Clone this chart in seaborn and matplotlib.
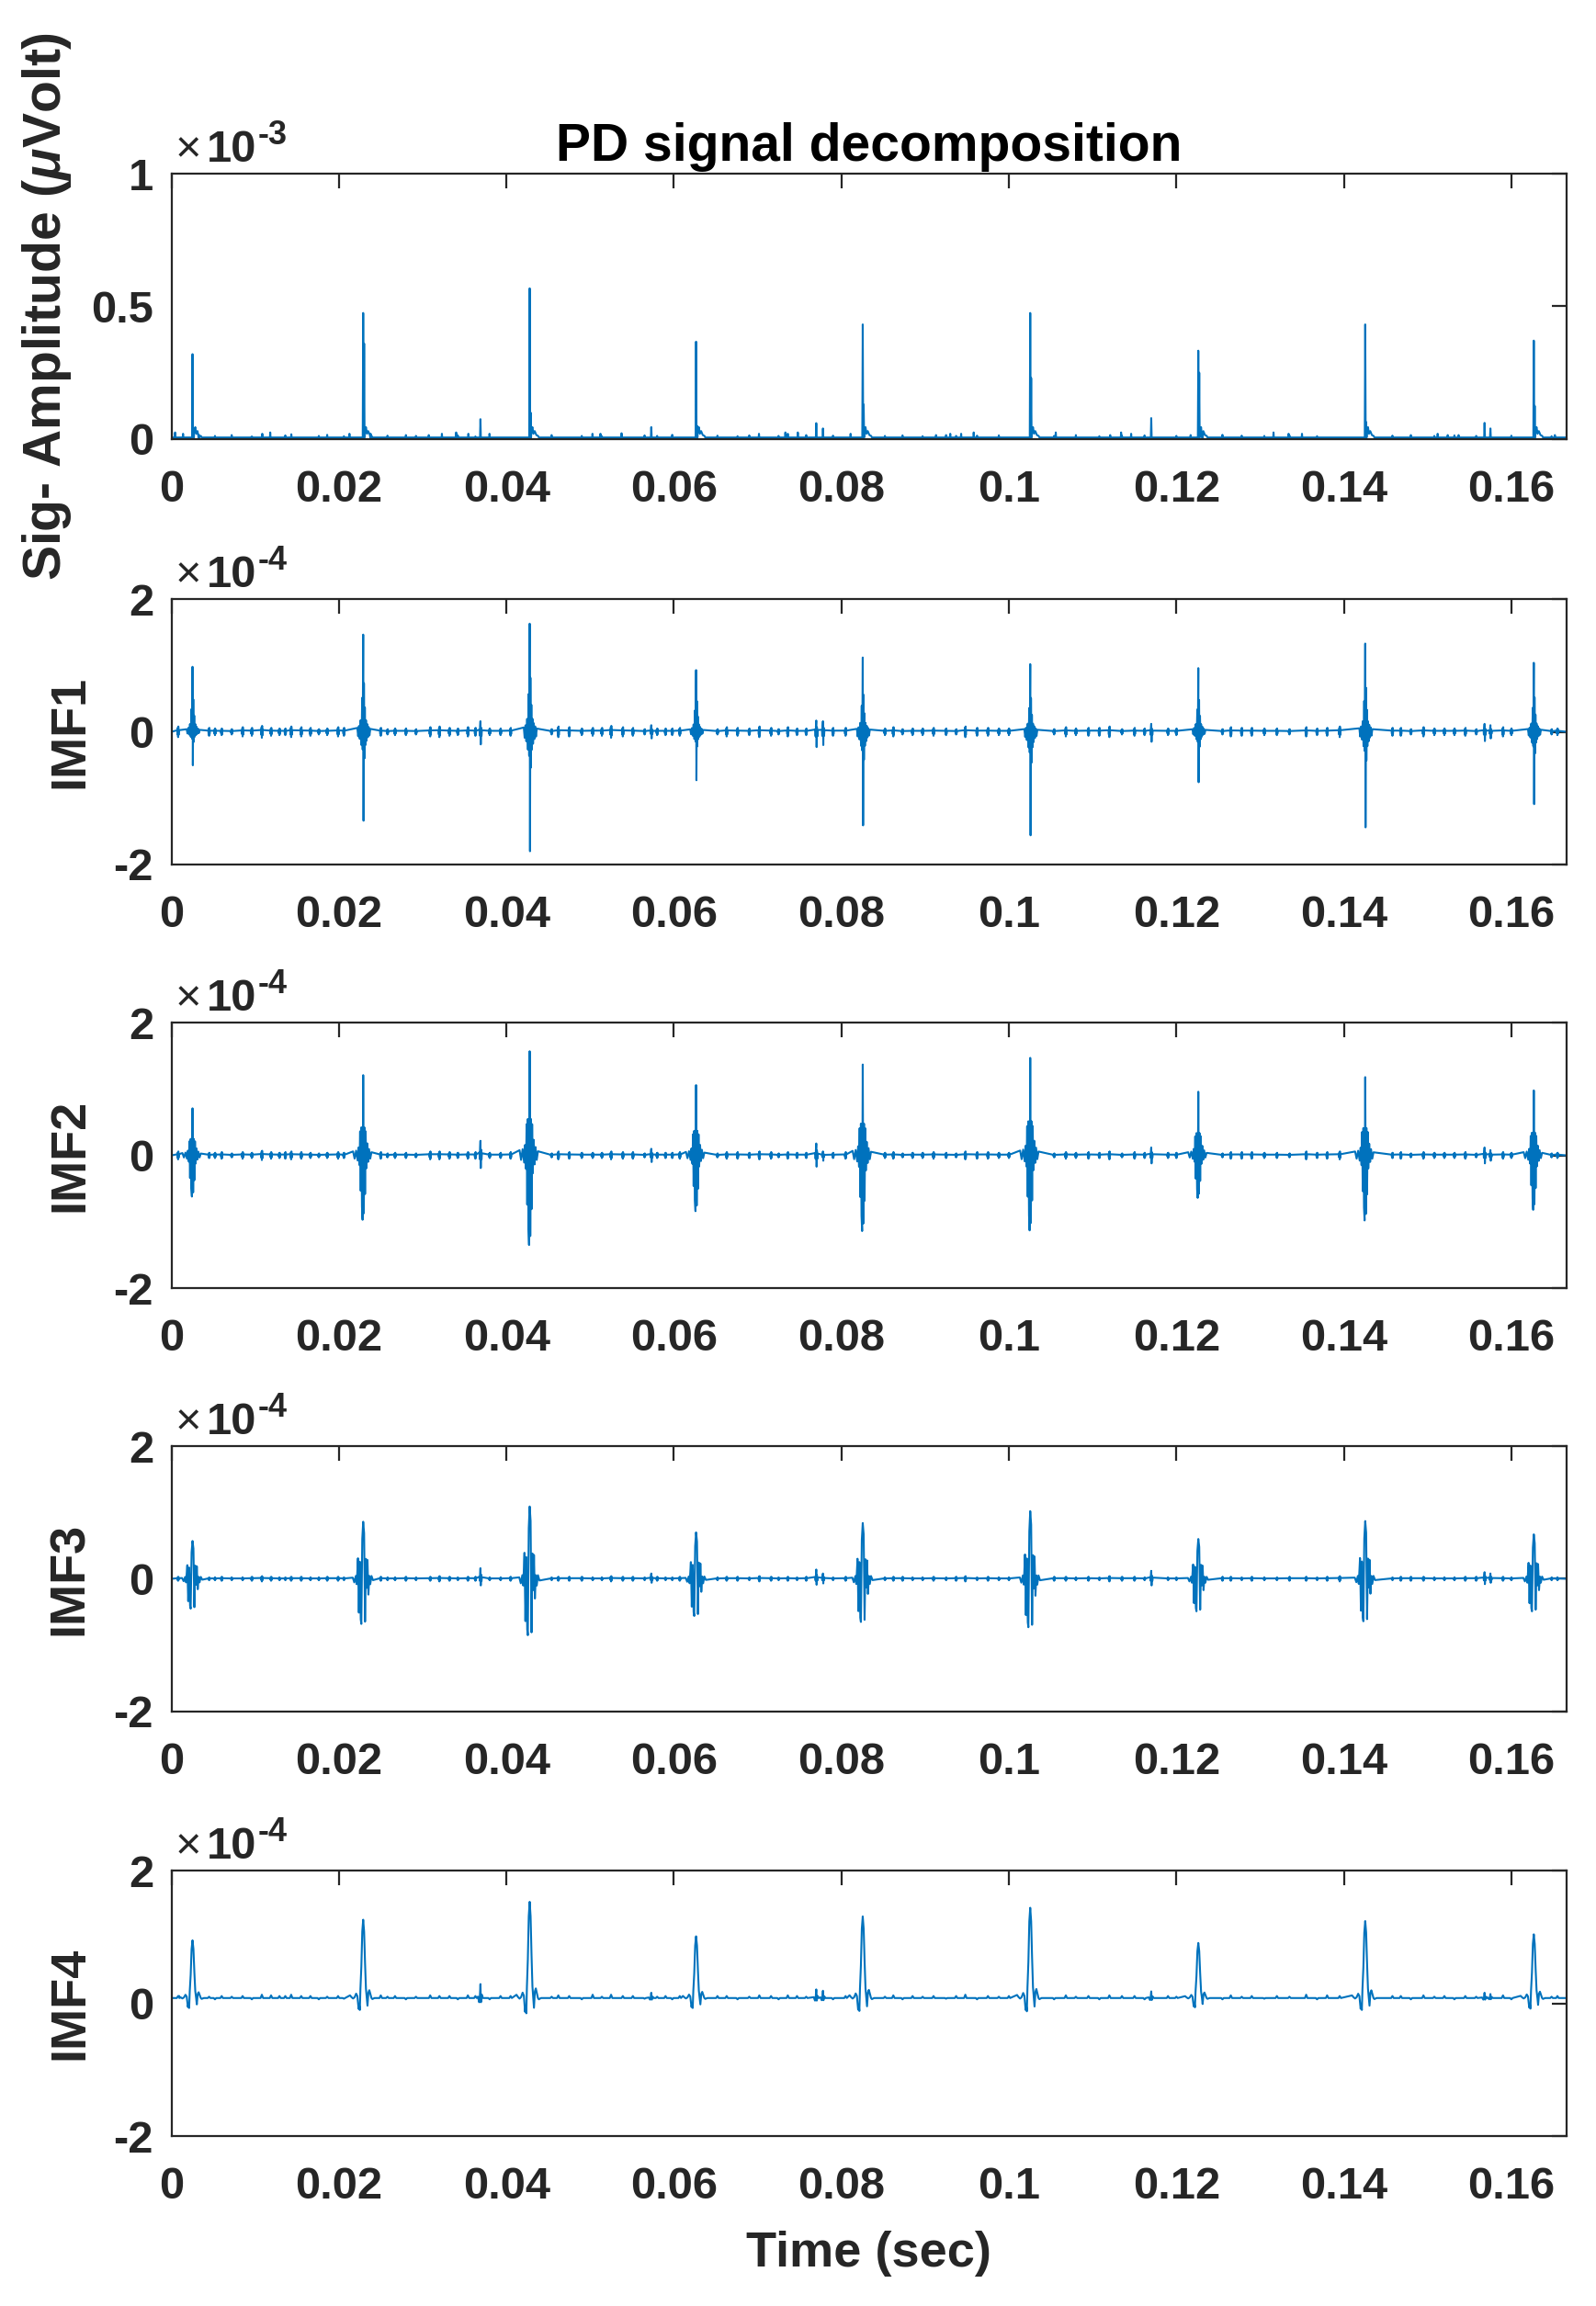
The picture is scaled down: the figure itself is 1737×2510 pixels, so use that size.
import numpy as np
import pandas as pd
import matplotlib
matplotlib.use("Agg")
import matplotlib.pyplot as plt
import seaborn as sns
from matplotlib.ticker import FixedLocator, FuncFormatter

# ---------------- data ----------------
XMAX = 0.1666
XTICKS = [0, 0.02, 0.04, 0.06, 0.08, 0.10, 0.12, 0.14, 0.16]
SIG_YTICKS = [0, 0.5, 1]
IMF_YTICKS = [-2, 0, 2]
PANEL_LABELS = ["Sig- Amplitude ($\\mathit{\\mu}$Volt)", "IMF1", "IMF2", "IMF3", "IMF4"]
EXPONENTS = ["-3", "-4", "-4", "-4", "-4"]

# times of the nine main PD pulses (s)
PULSE_T = [0.00252, 0.02290, 0.04278, 0.06265, 0.08255, 0.10255, 0.12262, 0.14255, 0.16268]
# times of the smaller secondary discharges (s)
SMALL_T = [0.0369, 0.0573, 0.0770, 0.0778, 0.1170, 0.1568, 0.1575]

# ---- raw signal (x1e-3) ----
SIG_BASE = 0.006
SIG_PEAK = [0.32, 0.475, 0.568, 0.367, 0.432, 0.475, 0.333, 0.432, 0.371]
SIG_SECOND = [0.04, 0.36, 0.10, 0.05, 0.13, 0.23, 0.25, 0.064, 0.125]
SIG_TAIL_US = [220, 330, 450, 600, 800, 1000, 1100]
SIG_TAIL_V = [0.035, 0.045, 0.02, 0.03, 0.015, 0.012, 0.006]
SIG_SMALL_V = [0.075, 0.045, 0.06, 0.04, 0.079, 0.061, 0.04]
SIG_FUZZ_T = [0.00044, 0.00139, 0.00328, 0.01085, 0.0118, 0.01432, 0.02126, 0.02379,
              0.03073, 0.0323, 0.034, 0.03546, 0.03798, 0.05028, 0.05123, 0.05375,
              0.07016, 0.07331, 0.0736, 0.0748, 0.0811, 0.0913, 0.0930, 0.0943,
              0.0958, 0.1056, 0.1121, 0.1134, 0.1146, 0.1217, 0.1231, 0.1316,
              0.1334, 0.1350, 0.1512, 0.1524, 0.1537, 0.1652]
SIG_FUZZ_V = [0.025, 0.02, 0.015, 0.02, 0.025, 0.018, 0.02, 0.02,
              0.015, 0.02, 0.025, 0.02, 0.02, 0.02, 0.02, 0.022,
              0.02, 0.025, 0.02, 0.025, 0.02, 0.015, 0.02, 0.02,
              0.025, 0.025, 0.015, 0.025, 0.02, 0.015, 0.02, 0.025,
              0.02, 0.02, 0.02, 0.015, 0.015, 0.015]

# ---- IMFs (x1e-4) ----
IMF1_PEAK = [0.98, 1.465, 1.63, 0.93, 1.12, 1.02, 0.96, 1.33, 1.04]
IMF1_TROUGH = [-0.505, -1.34, -1.80, -0.73, -1.41, -1.56, -0.76, -1.44, -1.09]
IMF2_PEAK = [0.71, 1.21, 1.57, 1.06, 1.37, 1.47, 0.96, 1.18, 0.98]
IMF2_TROUGH = [-0.62, -0.97, -1.35, -0.84, -1.14, -1.13, -0.64, -0.98, -0.82]
IMF3_PEAK = [0.57, 0.86, 1.09, 0.70, 0.84, 1.02, 0.60, 0.87, 0.67]
IMF3_TROUGH = [-0.45, -0.68, -0.85, -0.56, -0.65, -0.73, -0.49, -0.64, -0.49]
IMF4_BASE = 0.08
IMF4_PEAK = [0.95, 1.26, 1.53, 1.01, 1.31, 1.44, 0.91, 1.24, 1.04]
IMF4_TROUGH = [-0.07, -0.10, -0.15, -0.07, -0.115, -0.12, -0.06, -0.10, -0.08]

# pulse shapes read at the third pulse (offset in microseconds, value relative to peak/trough)
IMF1_OFF = [-700, -600, -500, -400, -300, -200, -120, -60, 0, 40, 90, 140, 200, 260, 330, 400, 480, 560, 650, 750, 850]
IMF1_REL = [0.04, -0.05, 0.06, -0.08, 0.12, -0.15, 0.35, -0.2, 1.0, -1.0, 0.5, -0.3, 0.25, -0.15, 0.12, -0.1, 0.08, -0.06, 0.05, -0.04, 0.03]
IMF2_OFF = [-1208, -1025, -842, -659, -549, -439, -366, -293, -220, -146, -73, 0, 73, 146, 220, 293, 366, 476, 586, 695, 842, 988]
IMF2_REL = [0.05, -0.05, 0.06, -0.08, 0.1, -0.15, 0.3, -0.55, 0.35, -0.8, -1.0, 1.0, -0.9, 0.35, -0.6, 0.3, -0.2, 0.15, -0.1, 0.08, -0.05, 0.04]
IMF3_OFF = [-1244, -1061, -878, -769, -622, -512, -403, -293, -220, -110, 0, 110, 220, 329, 439, 512, 622, 732, 842, 988, 1171]
IMF3_REL = [0.02, -0.08, 0.05, -0.12, 0.36, -0.75, 0.3, -0.9, -1.0, 0.7, 1.0, 0.8, -0.95, 0.35, -0.2, 0.33, -0.35, 0.05, -0.12, 0.05, -0.03]
IMF4_OFF = [-1574, -1391, -1208, -1025, -842, -695, -549, -476, -403, -329, -220, -110, 0, 110, 220, 329, 439, 512, 622, 732, 842, 988, 1098, 1354]
IMF4_REL = [0.034, 0.01, -0.04, 0.01, 0.056, 0.025, -0.9, -0.57, -1.0, 0.12, 0.4, 0.85, 1.0, 0.85, 0.45, 0.12, -0.04, -0.64, 0.07, 0.1, 0.056, 0.0, -0.085, 0.0]

# small discharges
SMALL_OFF = [-120, -80, -40, 0, 40, 80, 130, 180]
SMALL_REL = [0.2, -0.3, 0.5, 1.0, -1.0, 0.4, -0.3, 0.15]
IMF1_SMALL_POS = [0.16, 0.10, 0.17, 0.16, 0.12, 0.12, 0.10]
IMF1_SMALL_NEG = [-0.19, -0.10, -0.23, -0.20, -0.15, -0.14, -0.10]
IMF2_SMALL_POS = [0.22, 0.10, 0.18, 0.06, 0.12, 0.12, 0.08]
IMF2_SMALL_NEG = [-0.19, -0.10, -0.17, -0.08, -0.12, -0.12, -0.08]
IMF3_SMALL_POS = [0.16, 0.08, 0.14, 0.08, 0.12, 0.10, 0.08]
IMF3_SMALL_NEG = [-0.10, -0.06, -0.09, -0.07, -0.10, -0.08, -0.06]
SMALL4_OFF = [-300, -150, -60, 0, 60, 150, 300]
SMALL4_REL = [0.1, -0.3, 0.2, 1.0, -0.3, 0.25, 0.0]
IMF4_SMALL_PEAK = [0.29, 0.16, 0.21, 0.19, 0.18, 0.16, 0.14]

# baseline noise bursts between pulses
FUZZ_T = [0.0008, 0.0045, 0.0060, 0.0085, 0.0108, 0.0119, 0.0129, 0.0143,
          0.0155, 0.0166, 0.0199, 0.0250, 0.0267, 0.0309, 0.0320, 0.0332,
          0.0354, 0.0393, 0.0405, 0.0462, 0.0475, 0.0503, 0.0525, 0.0539,
          0.0551, 0.0590, 0.0607, 0.0663, 0.0702, 0.0716, 0.0736, 0.0747,
          0.0805, 0.0862, 0.0885, 0.0910, 0.0948, 0.0975, 0.1000, 0.1068,
          0.1095, 0.1120, 0.1150, 0.1190, 0.1265, 0.1290, 0.1320, 0.1355,
          0.1380, 0.1395, 0.1468, 0.1495, 0.1520, 0.1545, 0.1590, 0.1655]
FUZZ2_T = [0.0052, 0.0072, 0.0096, 0.0136, 0.0176, 0.0186, 0.0206, 0.0258,
           0.0280, 0.0292, 0.0342, 0.0363, 0.0380, 0.0454, 0.0490, 0.0514,
           0.0565, 0.0580, 0.0598, 0.0652, 0.0676, 0.0690, 0.0725, 0.0758,
           0.0790, 0.0852, 0.0873, 0.0897, 0.0925, 0.0937, 0.0962, 0.0988,
           0.1054, 0.1080, 0.1108, 0.1135, 0.1162, 0.1200, 0.1255, 0.1278,
           0.1305, 0.1335, 0.1368, 0.1458, 0.1480, 0.1508, 0.1532, 0.1558,
           0.1600, 0.1648]
FUZZ_OFF = [-90, -60, -30, 0, 30, 60, 90]
FUZZ_REL = [0.3, -0.5, 0.8, -1.0, 1.0, -0.6, 0.3]

IMF1_FUZZ = [0.08, 0.06, 0.05, 0.07, 0.09, 0.06, 0.05, 0.08,
             0.07, 0.06, 0.07, 0.06, 0.05, 0.07, 0.08, 0.06,
             0.07, 0.05, 0.06, 0.08, 0.07, 0.06, 0.09, 0.07,
             0.06, 0.05, 0.06, 0.07, 0.08, 0.06, 0.07, 0.05,
             0.06, 0.07, 0.05, 0.06, 0.08, 0.06, 0.05, 0.07,
             0.06, 0.08, 0.06, 0.05, 0.07, 0.06, 0.05, 0.07,
             0.06, 0.08, 0.06, 0.07, 0.05, 0.06, 0.07, 0.05]
IMF1_FUZZ2 = [0.05, 0.04, 0.06, 0.05, 0.04, 0.05, 0.06, 0.04,
              0.05, 0.04, 0.05, 0.06, 0.05, 0.04, 0.05, 0.06,
              0.04, 0.05, 0.05, 0.04, 0.06, 0.05, 0.04, 0.05,
              0.06, 0.05, 0.04, 0.05, 0.05, 0.04, 0.06, 0.05,
              0.04, 0.05, 0.06, 0.04, 0.05, 0.05, 0.04, 0.06,
              0.05, 0.04, 0.05, 0.06, 0.04, 0.05, 0.05, 0.04,
              0.05, 0.04]
IMF2_FUZZ = [0.06, 0.04, 0.05, 0.05, 0.07, 0.05, 0.04, 0.06,
             0.05, 0.04, 0.05, 0.05, 0.04, 0.06, 0.06, 0.05,
             0.05, 0.04, 0.05, 0.06, 0.05, 0.04, 0.06, 0.05,
             0.05, 0.04, 0.05, 0.05, 0.06, 0.05, 0.05, 0.04,
             0.05, 0.05, 0.04, 0.05, 0.06, 0.05, 0.04, 0.05,
             0.05, 0.06, 0.05, 0.04, 0.05, 0.05, 0.04, 0.06,
             0.05, 0.06, 0.05, 0.05, 0.04, 0.05, 0.05, 0.04]
IMF2_FUZZ2 = [0.04, 0.03, 0.04, 0.05, 0.03, 0.04, 0.04, 0.03,
              0.04, 0.03, 0.04, 0.05, 0.04, 0.03, 0.04, 0.04,
              0.03, 0.04, 0.04, 0.03, 0.05, 0.04, 0.03, 0.04,
              0.04, 0.04, 0.03, 0.04, 0.04, 0.03, 0.05, 0.04,
              0.03, 0.04, 0.04, 0.03, 0.04, 0.04, 0.03, 0.05,
              0.04, 0.03, 0.04, 0.04, 0.03, 0.04, 0.04, 0.03,
              0.04, 0.03]
IMF3_FUZZ = [0.03, 0.02, 0.03, 0.02, 0.04, 0.03, 0.02, 0.03,
             0.03, 0.02, 0.03, 0.03, 0.02, 0.03, 0.04, 0.03,
             0.03, 0.02, 0.03, 0.03, 0.03, 0.02, 0.04, 0.03,
             0.03, 0.02, 0.03, 0.03, 0.04, 0.03, 0.03, 0.02,
             0.03, 0.03, 0.02, 0.03, 0.04, 0.03, 0.02, 0.03,
             0.03, 0.04, 0.03, 0.02, 0.03, 0.03, 0.02, 0.03,
             0.03, 0.04, 0.03, 0.03, 0.02, 0.03, 0.03, 0.02]
IMF3_FUZZ2 = [0.02, 0.02, 0.03, 0.02, 0.02, 0.03, 0.02, 0.02,
              0.03, 0.02, 0.02, 0.03, 0.02, 0.02, 0.03, 0.02,
              0.02, 0.03, 0.02, 0.02, 0.03, 0.02, 0.02, 0.03,
              0.02, 0.02, 0.03, 0.02, 0.02, 0.03, 0.02, 0.02,
              0.03, 0.02, 0.02, 0.03, 0.02, 0.02, 0.03, 0.02,
              0.02, 0.03, 0.02, 0.02, 0.03, 0.02, 0.02, 0.03,
              0.02, 0.02]
IMF4_FUZZ = [0.03, 0.02, 0.03, 0.03, 0.05, 0.04, 0.03, 0.05,
             0.03, 0.03, 0.03, 0.04, 0.03, 0.04, 0.03, 0.03,
             0.04, 0.03, 0.03, 0.04, 0.03, 0.05, 0.05, 0.03,
             0.03, 0.03, 0.03, 0.03, 0.04, 0.03, 0.04, 0.03,
             0.03, 0.04, 0.03, 0.03, 0.05, 0.03, 0.03, 0.04,
             0.03, 0.04, 0.03, 0.03, 0.04, 0.03, 0.03, 0.05,
             0.04, 0.03, 0.03, 0.04, 0.03, 0.03, 0.04, 0.03]
IMF4_FUZZ2 = [-0.02, 0.02, -0.02, 0.03, -0.02, 0.02, -0.01, 0.02,
              -0.02, 0.02, -0.02, 0.03, -0.02, 0.02, -0.02, 0.02,
              -0.01, 0.02, -0.02, 0.03, -0.02, 0.02, -0.02, 0.02,
              -0.02, 0.02, -0.02, 0.02, -0.01, 0.03, -0.02, 0.02,
              -0.02, 0.02, -0.02, 0.03, -0.02, 0.02, -0.02, 0.02,
              -0.01, 0.02, -0.02, 0.03, -0.02, 0.02, -0.02, 0.02,
              -0.02, 0.02]
SIG_FUZZ2 = [0.012, 0.015, 0.010, 0.014, 0.012, 0.016, 0.011, 0.013,
             0.015, 0.012, 0.014, 0.010, 0.013, 0.015, 0.012, 0.011,
             0.014, 0.012, 0.016, 0.013, 0.011, 0.014, 0.012, 0.015,
             0.013, 0.012, 0.014, 0.011, 0.015, 0.012, 0.013, 0.014,
             0.012, 0.015, 0.011, 0.013, 0.014, 0.012, 0.016, 0.013,
             0.012, 0.014, 0.011, 0.013, 0.015, 0.012, 0.014, 0.012,
             0.013, 0.011]

# ---------------- helpers to turn the read values into line vertices ----------------
US = 1e-6


def shaped(t0, offs, rels, pos_amp, neg_amp, base):
    pts = []
    for o, r in zip(offs, rels):
        amp = pos_amp if r >= 0 else -neg_amp
        pts.append((t0 + o * US, base + r * amp))
    return pts


def assemble(base, events):
    pts = [(0.0, base), (XMAX, base)]
    for ev in events:
        pts.extend(ev)
    pts = [p for p in pts if 0.0 <= p[0] <= XMAX]
    pts.sort(key=lambda p: p[0])
    return pd.DataFrame({"t": [p[0] for p in pts], "v": [p[1] for p in pts]})


def bursts(ts, amps, base):
    return [shaped(t, FUZZ_OFF, FUZZ_REL, a, -a, base) for t, a in zip(ts, amps)]


# raw signal
sig_events = []
for t0, pk, sc in zip(PULSE_T, SIG_PEAK, SIG_SECOND):
    ev = [(t0 - 55 * US, SIG_BASE), (t0, pk), (t0 + 55 * US, SIG_BASE),
          (t0 + 110 * US, sc), (t0 + 165 * US, SIG_BASE)]
    ev += [(t0 + o * US, v) for o, v in zip(SIG_TAIL_US, SIG_TAIL_V)]
    sig_events.append(ev)
for t0, v in zip(SMALL_T, SIG_SMALL_V):
    sig_events.append([(t0 - 50 * US, SIG_BASE), (t0, v), (t0 + 50 * US, SIG_BASE)])
for t0, v in list(zip(SIG_FUZZ_T, SIG_FUZZ_V)) + list(zip(FUZZ2_T, SIG_FUZZ2)):
    sig_events.append([(t0 - 40 * US, SIG_BASE), (t0, v), (t0 + 40 * US, SIG_BASE)])
df_sig = assemble(SIG_BASE, sig_events)


def imf_frame(peaks, troughs, offs, rels, s_pos, s_neg, fuzz, fuzz2):
    events = [shaped(t0, offs, rels, p, n, 0.0) for t0, p, n in zip(PULSE_T, peaks, troughs)]
    events += [shaped(t0, SMALL_OFF, SMALL_REL, p, n, 0.0) for t0, p, n in zip(SMALL_T, s_pos, s_neg)]
    events += bursts(FUZZ_T, fuzz, 0.0)
    events += bursts(FUZZ2_T, fuzz2, 0.0)
    return assemble(0.0, events)


df_imf1 = imf_frame(IMF1_PEAK, IMF1_TROUGH, IMF1_OFF, IMF1_REL, IMF1_SMALL_POS, IMF1_SMALL_NEG, IMF1_FUZZ, IMF1_FUZZ2)
df_imf2 = imf_frame(IMF2_PEAK, IMF2_TROUGH, IMF2_OFF, IMF2_REL, IMF2_SMALL_POS, IMF2_SMALL_NEG, IMF2_FUZZ, IMF2_FUZZ2)
df_imf3 = imf_frame(IMF3_PEAK, IMF3_TROUGH, IMF3_OFF, IMF3_REL, IMF3_SMALL_POS, IMF3_SMALL_NEG, IMF3_FUZZ, IMF3_FUZZ2)

ev4 = [shaped(t0, IMF4_OFF, IMF4_REL, p - IMF4_BASE, n - IMF4_BASE, IMF4_BASE)
       for t0, p, n in zip(PULSE_T, IMF4_PEAK, IMF4_TROUGH)]
ev4 += [shaped(t0, SMALL4_OFF, SMALL4_REL, p - IMF4_BASE, -(p - IMF4_BASE), IMF4_BASE)
        for t0, p in zip(SMALL_T, IMF4_SMALL_PEAK)]
ev4 += [[(t - 150 * US, IMF4_BASE), (t, IMF4_BASE + a), (t + 150 * US, IMF4_BASE)]
        for t, a in list(zip(FUZZ_T, IMF4_FUZZ)) + list(zip(FUZZ2_T, IMF4_FUZZ2))]
df_imf4 = assemble(IMF4_BASE, ev4)

FRAMES = [df_sig, df_imf1, df_imf2, df_imf3, df_imf4]

# ---------------- styling ----------------
sns.set_theme(style="white")
plt.rcParams["font.family"] = ["Liberation Sans", "DejaVu Sans"]
plt.rcParams["font.weight"] = "bold"
plt.rcParams["mathtext.fontset"] = "custom"
plt.rcParams["mathtext.rm"] = "Liberation Sans"
plt.rcParams["mathtext.it"] = "Liberation Sans:italic"
plt.rcParams["mathtext.bf"] = "Liberation Sans:bold"
plt.rcParams["mathtext.default"] = "regular"

BLUE = "#0072BD"
AXC = "#262626"
TICK_FS = 17.6
LABEL_FS = 19.5

fig = plt.figure(figsize=(8.685, 12.55), dpi=200)
LEFT, WIDTH, HEIGHT = 0.1074, 0.8742, 0.1151
BOTTOMS = [0.8096, 0.6251, 0.4414, 0.2578, 0.0737]
EXP_Y = 1 + 13 / 289

for i, (df, b) in enumerate(zip(FRAMES, BOTTOMS)):
    ax = fig.add_axes([LEFT, b, WIDTH, HEIGHT])
    sns.lineplot(data=df, x="t", y="v", ax=ax, color=BLUE, linewidth=0.75,
                 estimator=None, sort=False, errorbar=None)
    ax.set_xlim(0, XMAX)
    if i == 0:
        ax.set_ylim(0, 1)
        ax.yaxis.set_major_locator(FixedLocator(SIG_YTICKS))
    else:
        ax.set_ylim(-2, 2)
        ax.yaxis.set_major_locator(FixedLocator(IMF_YTICKS))
    ax.xaxis.set_major_locator(FixedLocator(XTICKS))
    ax.xaxis.set_major_formatter(FuncFormatter(lambda x, p: f"{x:g}"))
    ax.yaxis.set_major_formatter(FuncFormatter(lambda y, p: f"{y:g}"))
    ax.tick_params(axis="both", which="major", direction="in", top=True, right=True,
                   length=5.8, width=0.8, color=AXC, labelcolor=AXC, labelsize=TICK_FS)
    ax.tick_params(axis="x", pad=12)
    ax.tick_params(axis="y", pad=7)
    for lab in ax.get_xticklabels() + ax.get_yticklabels():
        lab.set_fontweight("bold")
    for sp in ax.spines.values():
        sp.set_visible(True)
        sp.set_color(AXC)
        sp.set_linewidth(0.8)
    ax.grid(False)

    ax.set_xlabel("")
    ax.set_ylabel(PANEL_LABELS[i], fontsize=(20.5 if i == 0 else LABEL_FS),
                  fontweight="bold", color=AXC)
    ax.yaxis.label.set_va("center")
    ax.yaxis.label.set_ha("center")
    ax.yaxis.set_label_coords(-0.0895 if i == 0 else -0.0728, 0.5)

    # "×10^-n" multiplier above the axes (thin ×, bold mantissa and exponent)
    t_x = ax.text(0.003, EXP_Y, "×", transform=ax.transAxes,
                  ha="left", va="baseline", fontsize=TICK_FS, fontweight="normal", color=AXC)
    t_10 = ax.annotate("10", xy=(1.0, EXP_Y), xycoords=(t_x, "axes fraction"),
                       xytext=(2.0, 0), textcoords="offset points",
                       ha="left", va="baseline", fontsize=TICK_FS, fontweight="bold", color=AXC)
    ax.annotate(EXPONENTS[i], xy=(1.0, EXP_Y + 18.7 / 289), xycoords=(t_10, "axes fraction"),
                xytext=(0.5, 0), textcoords="offset points",
                ha="left", va="baseline", fontsize=13, fontweight="bold", color=AXC)

    if i == 0:
        ax.set_title("PD signal decomposition", fontsize=20.5, fontweight="bold",
                     color="black", pad=5)
    if i == 4:
        ax.set_xlabel("Time (sec)", fontsize=LABEL_FS, fontweight="bold", color=AXC, labelpad=9)

fig.savefig("out.png", dpi=200, facecolor="white")
